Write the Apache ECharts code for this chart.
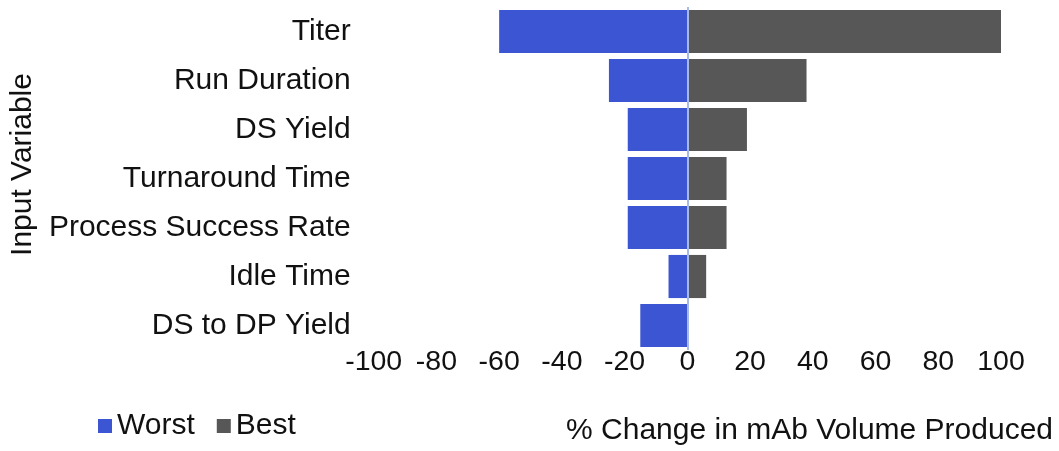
<!DOCTYPE html>
<html>
<head>
<meta charset="utf-8">
<style>
  html, body { margin: 0; padding: 0; background: #fff; }
  #chart { width: 1059px; height: 451px; }
</style>
<script src="https://cdn.jsdelivr.net/npm/echarts@6/dist/echarts.min.js"></script>
</head>
<body>
<div id="chart"></div>
<script>
  // tornado data, top to bottom
  var categories = ["Titer", "Run Duration", "DS Yield", "Turnaround Time", "Process Success Rate", "Idle Time", "DS to DP Yield"];
  var worstData = [-60, -25, -19, -19, -19, -6, -15];
  var bestData = [100, 38, 19, 12.5, 12.5, 6, 0];
  var xTicks = [-100, 100, 20]; // min, max, interval

  var font = "Liberation Sans, Arial, sans-serif";
  var chart = echarts.init(document.getElementById("chart"));

  chart.setOption({
    animation: false,
    textStyle: { fontFamily: font },
    grid: {
      left: 373,
      right: 58,
      top: 7,
      bottom: 101,
      containLabel: false,
    },
    legend: {
      data: ["Worst", "Best"],
      left: 93,
      top: 406,
      itemWidth: 14,
      itemHeight: 14,
      itemGap: 22,
      icon: "rect",
      textStyle: { fontSize: 30, color: "#111", fontFamily: font },
    },
    xAxis: {
      type: "value",
      min: xTicks[0],
      max: xTicks[1],
      interval: xTicks[2],
      name: "% Change in mAb Volume Produced",
      nameLocation: "end",
      nameGap: 52,
      nameTextStyle: {
        fontSize: 30,
        color: "#111",
        align: "right",
        verticalAlign: "top",
        padding: [66, 0, 0, 0],
      },
      axisLine: { show: false },
      axisTick: { show: false },
      splitLine: { show: false },
      axisLabel: { fontSize: 28.5, color: "#111", margin: -2 },
    },
    yAxis: {
      type: "category",
      data: categories,
      inverse: true,
      name: "Input Variable",
      nameLocation: "middle",
      nameRotate: 90,
      nameGap: 327,
      nameTextStyle: { fontSize: 30, color: "#111", padding: [0, 0, 0, 28] },
      axisLine: { show: false, onZero: false },
      axisTick: { show: false },
      splitLine: { show: false },
      axisLabel: { fontSize: 30, color: "#111", margin: 23 },
    },
    series: [
      {
        name: "Worst",
        type: "bar",
        data: worstData,
        barGap: "-100%",
        barCategoryGap: "12%",
        itemStyle: { color: "#3b55d3" },
        markLine: {
          silent: true,
          symbol: "none",
          label: { show: false },
          lineStyle: { color: "#a9b9e6", width: 2, type: "solid" },
          data: [{ xAxis: 0 }],
        },
      },
      {
        name: "Best",
        type: "bar",
        data: bestData,
        barGap: "-100%",
        barCategoryGap: "12%",
        itemStyle: { color: "#575757" },
      },
    ],
  });
</script>
</body>
</html>
